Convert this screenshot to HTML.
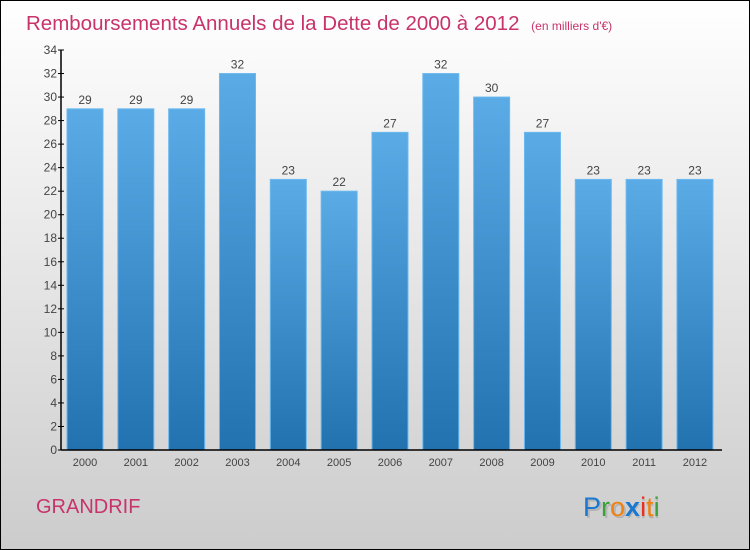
<!DOCTYPE html>
<html><head><meta charset="utf-8"><style>
body{margin:0}
svg{display:block;font-family:"Liberation Sans",sans-serif}
</style></head><body>
<svg width="750" height="550" viewBox="0 0 750 550">
<defs>
<linearGradient id="bg" x1="0" y1="0" x2="0" y2="1"><stop offset="0" stop-color="#ffffff"/><stop offset="1" stop-color="#cccccc"/></linearGradient>
<linearGradient id="bar" x1="0" y1="0" x2="0" y2="1"><stop offset="0" stop-color="#5aabe6"/><stop offset="1" stop-color="#2272b0"/></linearGradient>
</defs>
<rect x="0.5" y="0.5" width="749" height="549" fill="url(#bg)" stroke="#000"/>
<text x="26" y="30" font-size="20.5" fill="#c8336a">Remboursements Annuels de la Dette de 2000 à 2012 <tspan font-size="12" dx="6">(en milliers d'€)</tspan></text>
<g id="plot"></g>
<text x="36" y="513" font-size="20" fill="#c8336a">GRANDRIF</text>
<g font-size="27">
<text x="583" y="516" fill="#999" opacity="0.5" transform="translate(2,2)">Proxiti</text>
<text x="583" y="516"><tspan fill="#1a78d0">P</tspan><tspan fill="#3aa03a">r</tspan><tspan fill="#f08010">o</tspan><tspan fill="#1a78d0" font-weight="bold">x</tspan><tspan fill="#e83020">i</tspan><tspan fill="#f08010">t</tspan><tspan fill="#3aa03a">i</tspan></text>
</g>
</svg>
<script>
const years=["2000","2001","2002","2003","2004","2005","2006","2007","2008","2009","2010","2011","2012"];
const values=[29,29,29,32,23,22,27,32,30,27,23,23,23];
const yTicks=[0,2,4,6,8,10,12,14,16,18,20,22,24,26,28,30,32,34];
const NS="http://www.w3.org/2000/svg";
const g=document.getElementById('plot');
const y0=450,yTop=50,yMax=34,x0=61,xFirst=85,step=50.83,bw=36;
const yS=v=>y0-(v/yMax)*(y0-yTop);
const xS=i=>xFirst+i*step;
function mk(t,a,txt){const e=document.createElementNS(NS,t);for(const k in a)e.setAttribute(k,a[k]);if(txt!==undefined)e.textContent=txt;g.appendChild(e);return e;}
values.forEach((v,i)=>{
 const b=mk('rect',{x:xS(i)-bw/2,y:yS(v),width:bw,height:y0-yS(v),fill:'url(#bar)',stroke:'#6cb8ee','stroke-width':1});
 
 
 const l=mk('text',{x:xS(i),y:yS(v)-5,'text-anchor':'middle','font-size':12,fill:'#444'},String(v));
 
 
 const xl=mk('text',{x:xS(i),y:466,'text-anchor':'middle','font-size':11,fill:'#444'},years[i]);
 
 
});
yTicks.forEach(t=>{
 const tk=mk('line',{x1:x0-3,x2:x0+3,y1:yS(t),y2:yS(t),stroke:'#000'});
 
 
 const tl=mk('text',{x:x0-4,y:yS(t)+4,'text-anchor':'end','font-size':12,fill:'#444'},String(t));
 
 
});
const ya=mk('line',{x1:x0,x2:x0,y1:yTop,y2:y0,stroke:'#000','stroke-width':1.5});


const xa=mk('line',{x1:x0,x2:722,y1:y0,y2:y0,stroke:'#000','stroke-width':1.5});


</script>
</body></html>
